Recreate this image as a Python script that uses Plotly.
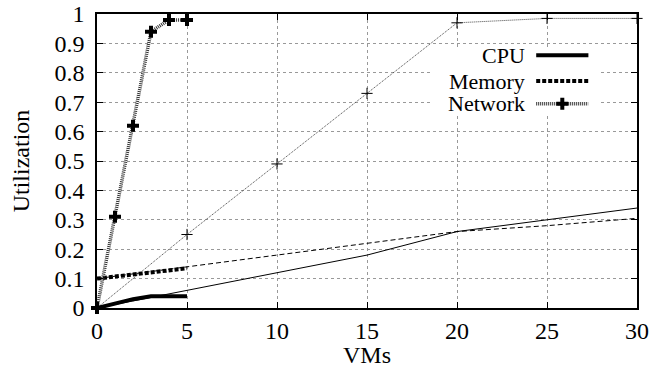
import plotly.graph_objects as go

# Thick series (0-5 VMs)
vms_small = [0, 1, 2, 3, 4, 5]
cpu_small = [0.0, 0.015, 0.03, 0.04, 0.04, 0.04]
mem_small = [0.10, 0.107, 0.114, 0.121, 0.128, 0.135]
net_small = [0.0, 0.31, 0.62, 0.94, 0.98, 0.98]

# Thin series (0-30 VMs)
vms_large = [0, 5, 10, 15, 20, 25, 30]
cpu_large = [0.0, 0.06, 0.12, 0.18, 0.26, 0.30, 0.34]
mem_large = [0.10, 0.14, 0.18, 0.22, 0.26, 0.28, 0.305]
net_large = [0.0, 0.25, 0.49, 0.73, 0.97, 0.985, 0.985]

x_ticks = [0, 5, 10, 15, 20, 25, 30]
y_ticks = [0, 0.1, 0.2, 0.3, 0.4, 0.5, 0.6, 0.7, 0.8, 0.9, 1]
y_tick_labels = ["0", "0.1", "0.2", "0.3", "0.4", "0.5", "0.6", "0.7", "0.8", "0.9", "1"]

legend_names = ["CPU", "Memory", "Network"]

FONT = "Liberation Serif"
FS = 24

fig = go.Figure()

# thin lines
fig.add_trace(go.Scatter(x=vms_large, y=cpu_large, mode="lines",
                         line=dict(color="black", width=1), showlegend=False))
fig.add_trace(go.Scatter(x=vms_large, y=mem_large, mode="lines",
                         line=dict(color="black", width=1, dash="5px,3px"), showlegend=False))
fig.add_trace(go.Scatter(x=vms_large, y=net_large, mode="lines+markers",
                         line=dict(color="#444", width=1, dash="1px,1px"),
                         marker=dict(symbol="cross-thin", size=8, line=dict(color="black", width=1)),
                         cliponaxis=False, showlegend=False))
# thick lines
fig.add_trace(go.Scatter(x=vms_small, y=cpu_small, mode="lines",
                         line=dict(color="black", width=4), showlegend=False))
fig.add_trace(go.Scatter(x=vms_small, y=mem_small, mode="lines",
                         line=dict(color="black", width=4, dash="4px,2px"), showlegend=False))
fig.add_trace(go.Scatter(x=vms_small, y=net_small, mode="lines+markers",
                         line=dict(color="#333", width=3.5, dash="1px,1px"),
                         marker=dict(symbol="cross", size=10, color="black"),
                         cliponaxis=False, showlegend=False))

# legend box (opaque key)
fig.add_shape(type="rect", xref="x", yref="y", x0=18.5, x1=27.9, y0=0.655, y1=0.885,
              fillcolor="white", line=dict(width=0), layer="between")

# legend texts and samples
leg_y = [0.86, 0.772, 0.695]
for name, yy in zip(legend_names, leg_y):
    fig.add_annotation(x=23.9, y=yy, xref="x", yref="y", text=name, showarrow=False,
                       xanchor="right", yanchor="middle",
                       font=dict(family=FONT, size=22, color="black"))
fig.add_trace(go.Scatter(x=[24.4, 27.3], y=[leg_y[0]] * 2, mode="lines",
                         line=dict(color="black", width=4), showlegend=False))
fig.add_trace(go.Scatter(x=[24.4, 27.3], y=[leg_y[1]] * 2, mode="lines",
                         line=dict(color="black", width=4, dash="4px,2px"), showlegend=False))
fig.add_trace(go.Scatter(x=[24.4, 27.3], y=[leg_y[2]] * 2, mode="lines",
                         line=dict(color="#333", width=3.5, dash="1px,1px"), showlegend=False))
fig.add_trace(go.Scatter(x=[25.85], y=[leg_y[2]], mode="markers",
                         marker=dict(symbol="cross", size=10, color="black"), showlegend=False))

axis_common = dict(showline=True, linecolor="black", linewidth=1.5, mirror="allticks",
                   ticks="inside", ticklen=6, tickcolor="black", tickwidth=1,
                   showgrid=True, gridcolor="#999", gridwidth=1, griddash="dot",
                   zeroline=False, ticklabeloverflow="allow", automargin=False,
                   tickfont=dict(family=FONT, size=FS, color="black"))

fig.update_xaxes(range=[0, 30], tickvals=x_ticks,
                 title=dict(text="VMs", font=dict(family=FONT, size=FS, color="black"), standoff=1),
                 **axis_common)
fig.update_yaxes(range=[0, 1], tickvals=y_ticks, ticktext=y_tick_labels, ticklabelstandoff=6,
                 title=dict(text="Utilization", font=dict(family=FONT, size=FS, color="black"), standoff=18),
                 **axis_common)

fig.update_layout(width=654, height=368, margin=dict(l=97, r=17, t=14, b=60),
                  plot_bgcolor="white", paper_bgcolor="white", showlegend=False)

fig.write_html("out.html", config={"displayModeBar": False},
               post_script="document.body.style.margin='0';")
